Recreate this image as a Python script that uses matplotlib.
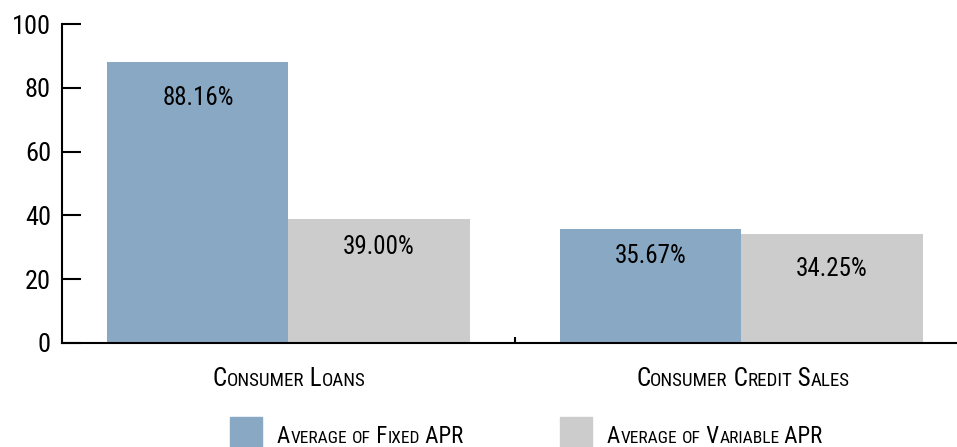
import matplotlib
matplotlib.use('Agg')
import matplotlib.pyplot as plt
from matplotlib import font_manager

# dados
categorias = ['Consumer Loans', 'Consumer Credit Sales']
fixed_apr = [88.16, 35.67]
variable_apr = [39.00, 34.25]
series = ['Average of Fixed APR', 'Average of Variable APR']
yticks = [0, 20, 40, 60, 80, 100]

azul = '#88a8c4'
cinza = '#cccccc'

nomes = [f.name for f in font_manager.fontManager.ttflist]
fonte = 'DejaVu Sans'
for nome in ['Liberation Sans Narrow', 'Roboto Condensed', 'DejaVu Sans Condensed']:
    if nome in nomes:
        fonte = nome
        break
plt.rcParams['font.family'] = [fonte, 'DejaVu Sans']
if fonte == 'DejaVu Sans':
    plt.rcParams['font.stretch'] = 'condensed'

fig = plt.figure(figsize=(9.57, 4.47), dpi=100)
ax = fig.add_axes([62/957, 1 - 343/447, 1 - 62/957, (343 - 24)/447])

x = list(range(len(categorias)))
w = 0.4
ax.bar([i - w/2 for i in x], fixed_apr, width=w, color=azul, align='center')
ax.bar([i + w/2 for i in x], variable_apr, width=w, color=cinza, align='center')

# distancia do rotulo ao topo da barra
desl_fixed = [11.3, 8.5]
desl_var = [8.8, 11.0]
for i in x:
    ax.text(i - w/2, fixed_apr[i] - desl_fixed[i], '%.2f%%' % fixed_apr[i], ha='center', va='center', fontsize=18)
    ax.text(i + w/2, variable_apr[i] - desl_var[i], '%.2f%%' % variable_apr[i], ha='center', va='center', fontsize=18)

ax.set_xlim(-0.5, (957 - 287) / 454)
ax.set_ylim(0, 100)
ax.set_yticks(yticks)
ax.set_yticklabels([str(v) for v in yticks], fontsize=19)
ax.tick_params(axis='y', direction='in', length=14, width=1.5, pad=8)
ax.set_xticks([0.5])
ax.set_xticklabels([''])
ax.tick_params(axis='x', direction='in', length=4, width=1.5)
for s in ['top', 'right']:
    ax.spines[s].set_visible(False)
for s in ['left', 'bottom']:
    ax.spines[s].set_linewidth(1.5)


def versalete(x0, y0, texto, tam, ha='center'):
    # small caps feito na mao: letras minusculas viram maiusculas menores
    partes = []
    for c in texto:
        menor = c.islower()
        if partes and partes[-1][1] == menor:
            partes[-1][0] += c.upper()
        else:
            partes.append([c.upper(), menor])
    r = fig.canvas.get_renderer()
    objs = []
    larg = 0
    for p, menor in partes:
        t = fig.text(0, y0, p, fontsize=tam * (0.76 if menor else 1), va='baseline')
        bb = t.get_window_extent(r)
        objs.append((t, bb.width))
        larg += bb.width
    xpix = x0 * fig.bbox.width
    if ha == 'center':
        xpix -= larg / 2
    for t, wd in objs:
        t.set_x(xpix / fig.bbox.width)
        xpix += wd


for i, c in enumerate(categorias):
    xc = (62 + (i + 0.5) * 454) / 957
    versalete(xc, 1 - 386/447, c, 18)

# legenda
cores = [azul, cinza]
px = [230, 560]
for i, s in enumerate(series):
    fig.patches.append(plt.Rectangle((px[i]/957, 0), 32/957, 30/447, transform=fig.transFigure,
                                     color=cores[i], figure=fig))
    versalete((px[i] + 47)/957, 1 - 443/447, s, 16.5, ha='left')

fig.savefig('out.png', dpi=100)
